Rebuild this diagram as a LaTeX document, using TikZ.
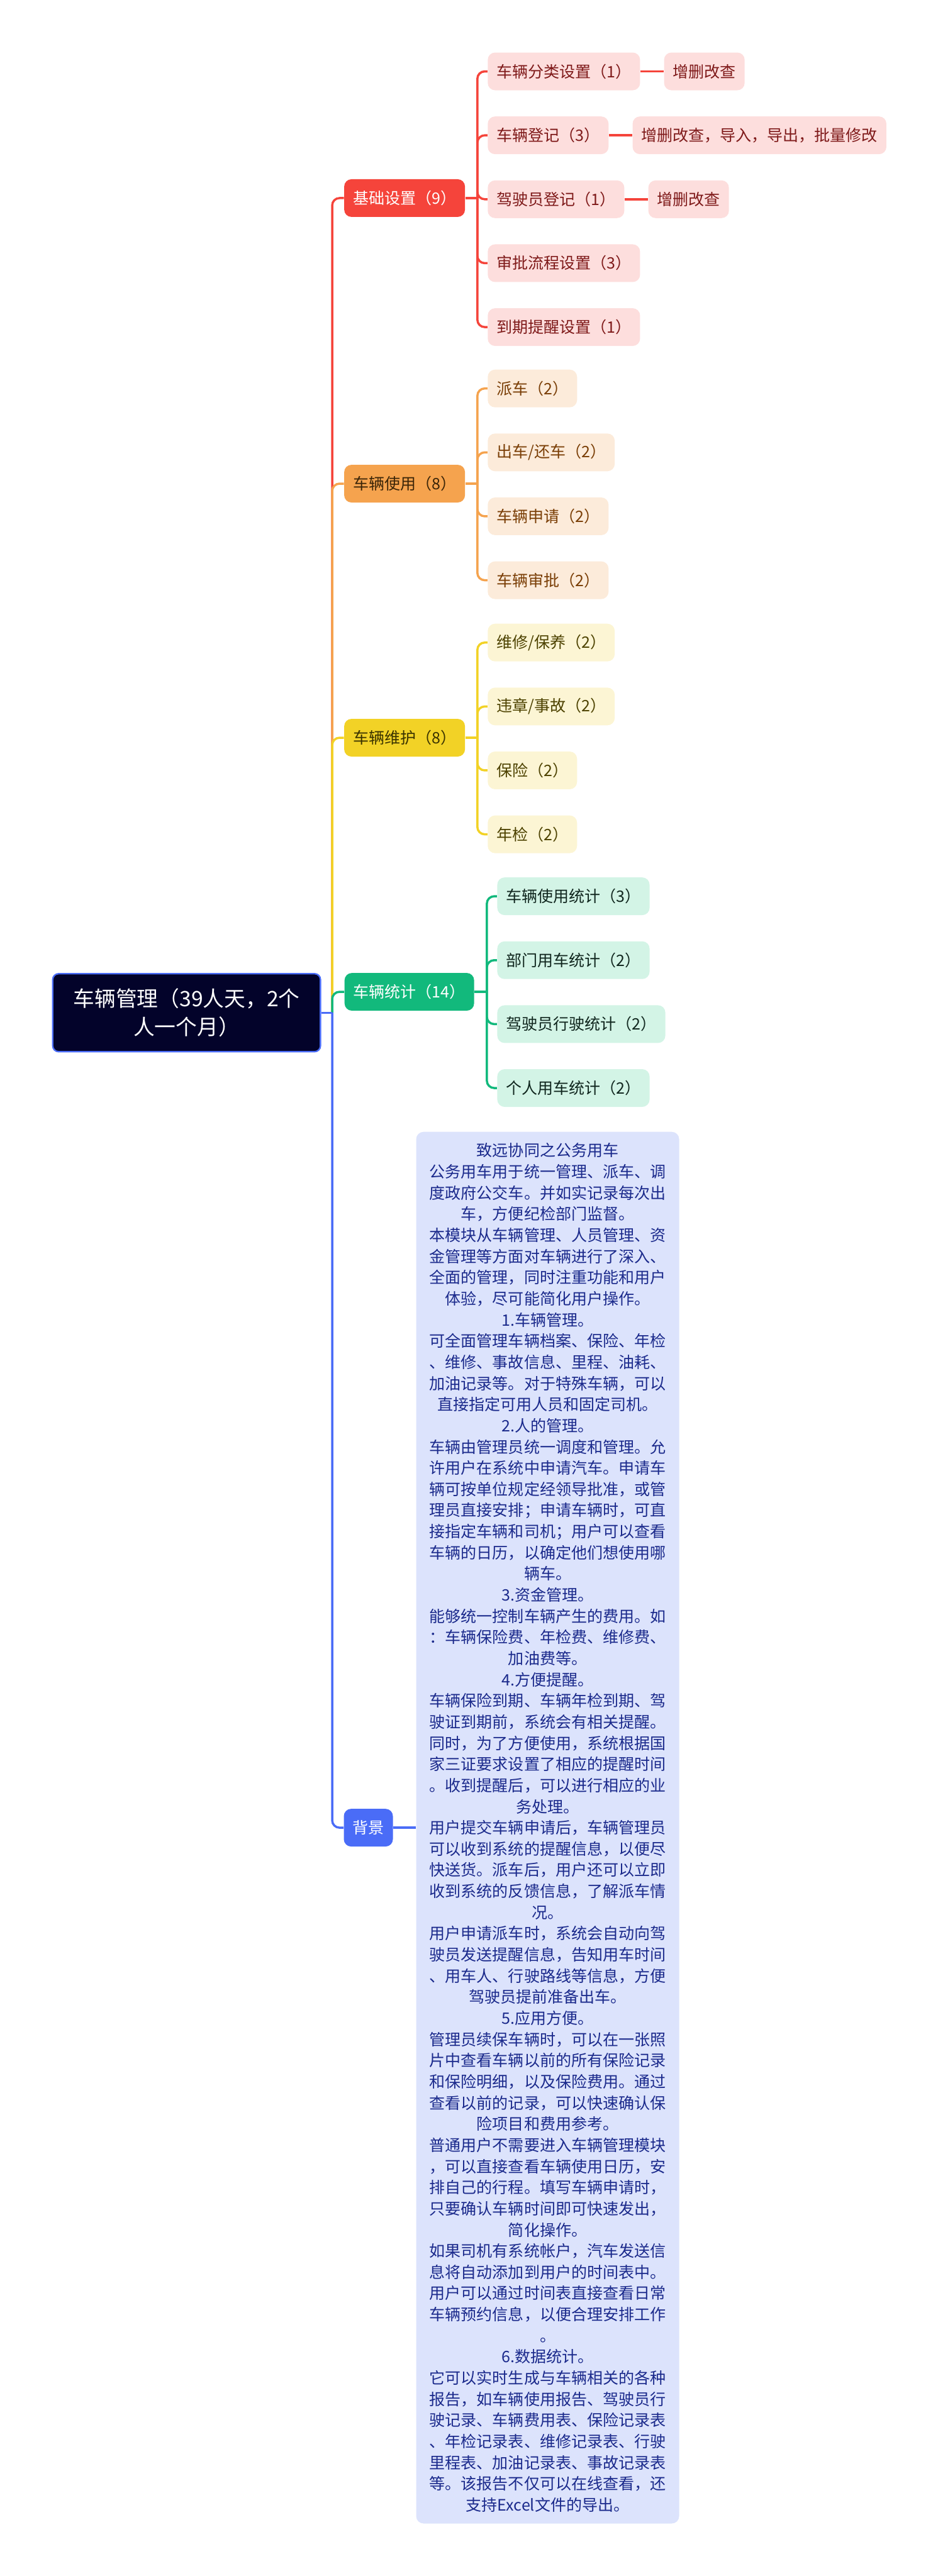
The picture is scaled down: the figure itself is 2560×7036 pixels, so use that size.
\documentclass[tikz,border=0pt]{standalone}
\usepackage{fontspec}
\setmainfont{Noto Sans CJK SC}
\usepackage{xcolor}
\usetikzlibrary{positioning}
\definecolor{rootfill}{HTML}{03032A}
\definecolor{redmain}{HTML}{F5443B}
\definecolor{redleaf}{HTML}{FDDEDD}
\definecolor{redtext}{HTML}{7F1A1A}
\definecolor{orgmain}{HTML}{F5A34E}
\definecolor{orgleaf}{HTML}{FCEBDA}
\definecolor{orgtext}{HTML}{7A3E06}
\definecolor{orgdark}{HTML}{3B2508}
\definecolor{yelmain}{HTML}{F2D226}
\definecolor{yelleaf}{HTML}{FCF5D4}
\definecolor{yeltext}{HTML}{4D4200}
\definecolor{yeldark}{HTML}{3A3300}
\definecolor{grnmain}{HTML}{12B97C}
\definecolor{grnleaf}{HTML}{D3F4E6}
\definecolor{grntext}{HTML}{10261E}
\definecolor{blumain}{HTML}{4A6CF7}
\definecolor{bluleaf}{HTML}{DCE3FC}
\definecolor{blutext}{HTML}{1B2A8C}

\begin{document}
\begin{tikzpicture}[x=0.25pt, y=-0.25pt]
            \useasboundingbox (0,0) rectangle (2560,7036);
            % Block styles
            \tikzstyle{block} = [rectangle, rounded corners=5pt, minimum height=25.75pt, inner xsep=6pt, inner ysep=0pt, font=\fontsize{10.75pt}{13pt}\selectfont]
            \tikzstyle{block_root} = [rectangle, rounded corners=4pt, draw=blumain, line width=1pt, fill=rootfill, text=white, align=center, minimum width=182.75pt, minimum height=53.25pt, font=\fontsize{14.5pt}{19.5pt}\selectfont]
            \tikzstyle{block_red} = [block, fill=redmain, text=white]
            \tikzstyle{block_orange} = [block, fill=orgmain, text=orgdark]
            \tikzstyle{block_yellow} = [block, fill=yelmain, text=yeldark]
            \tikzstyle{block_green} = [block, fill=grnmain, text=white]
            \tikzstyle{block_blue} = [block, fill=blumain, text=white]
            \tikzstyle{leaf_red} = [block, fill=redleaf, text=redtext]
            \tikzstyle{leaf_orange} = [block, fill=orgleaf, text=orgtext]
            \tikzstyle{leaf_yellow} = [block, fill=yelleaf, text=yeltext]
            \tikzstyle{leaf_green} = [block, fill=grnleaf, text=grntext]
            \tikzstyle{note_blue} = [rectangle, rounded corners=5pt, fill=bluleaf, text=blutext, align=center, text width=162pt, inner xsep=8.75pt, minimum height=950.25pt, font=\fontsize{10.75pt}{14.45pt}\selectfont]
            \tikzstyle{wire} = [line width=1.5pt, rounded corners=5pt]
            % Root and branches
            \node[block_root] (root) at (509.5,2766) {车辆管理（39人天，2个\\人一个月）};
            \node[block_red, anchor=west] (basic_setup) at (939,541) {基础设置（9）};
            \node[block_orange, anchor=west] (veh_use) at (939,1321) {车辆使用（8）};
            \node[block_yellow, anchor=west] (veh_maint) at (939,2015) {车辆维护（8）};
            \node[block_green, anchor=west] (veh_stat) at (940,2709) {车辆统计（14）};
            \node[block_blue, anchor=west] (background) at (938,4992) {背景};
            % Basic setup
            \node[leaf_red, anchor=west] (veh_class) at (1331,195) {车辆分类设置（1）};
            \node[leaf_red, below=17.5pt of veh_class.south west, anchor=north west] (veh_reg) {车辆登记（3）};
            \node[leaf_red, below=17.5pt of veh_reg.south west, anchor=north west] (driver_reg) {驾驶员登记（1）};
            \node[leaf_red, below=17.5pt of driver_reg.south west, anchor=north west] (approval) {审批流程设置（3）};
            \node[leaf_red, below=17.5pt of approval.south west, anchor=north west] (expiry) {到期提醒设置（1）};
            \node[leaf_red, right=16pt of veh_class] (veh_class_ops) {增删改查};
            \node[leaf_red, right=16pt of veh_reg] (veh_reg_ops) {增删改查，导入，导出，批量修改};
            \node[leaf_red, right=16pt of driver_reg] (driver_reg_ops) {增删改查};
            % Vehicle use
            \node[leaf_orange, anchor=west] (dispatch) at (1331,1061) {派车（2）};
            \node[leaf_orange, below=17.5pt of dispatch.south west, anchor=north west] (out_return) {出车/还车（2）};
            \node[leaf_orange, below=17.5pt of out_return.south west, anchor=north west] (veh_apply) {车辆申请（2）};
            \node[leaf_orange, below=17.5pt of veh_apply.south west, anchor=north west] (veh_approve) {车辆审批（2）};
            % Vehicle maintenance
            \node[leaf_yellow, anchor=west] (repair) at (1331,1755) {维修/保养（2）};
            \node[leaf_yellow, below=17.5pt of repair.south west, anchor=north west] (violation) {违章/事故（2）};
            \node[leaf_yellow, below=17.5pt of violation.south west, anchor=north west] (insurance) {保险（2）};
            \node[leaf_yellow, below=17.5pt of insurance.south west, anchor=north west] (inspection) {年检（2）};
            % Vehicle statistics
            \node[leaf_green, anchor=west] (use_stat) at (1357,2448) {车辆使用统计（3）};
            \node[leaf_green, below=17.5pt of use_stat.south west, anchor=north west] (dept_stat) {部门用车统计（2）};
            \node[leaf_green, below=17.5pt of dept_stat.south west, anchor=north west] (driver_stat) {驾驶员行驶统计（2）};
            \node[leaf_green, below=17.5pt of driver_stat.south west, anchor=north west] (person_stat) {个人用车统计（2）};
            % Background text
            \node[note_blue, right=15.5pt of background] (background_text) {致远协同之公务用车\\
公务用车用于统一管理、派车、调\\
度政府公交车。并如实记录每次出\\
车，方便纪检部门监督。\\
本模块从车辆管理、人员管理、资\\
金管理等方面对车辆进行了深入、\\
全面的管理，同时注重功能和用户\\
体验，尽可能简化用户操作。\\
1.车辆管理。\\
可全面管理车辆档案、保险、年检\\
、维修、事故信息、里程、油耗、\\
加油记录等。对于特殊车辆，可以\\
直接指定可用人员和固定司机。\\
2.人的管理。\\
车辆由管理员统一调度和管理。允\\
许用户在系统中申请汽车。申请车\\
辆可按单位规定经领导批准，或管\\
理员直接安排；申请车辆时，可直\\
接指定车辆和司机；用户可以查看\\
车辆的日历，以确定他们想使用哪\\
辆车。\\
3.资金管理。\\
能够统一控制车辆产生的费用。如\\
：车辆保险费、年检费、维修费、\\
加油费等。\\
4.方便提醒。\\
车辆保险到期、车辆年检到期、驾\\
驶证到期前，系统会有相关提醒。\\
同时，为了方便使用，系统根据国\\
家三证要求设置了相应的提醒时间\\
。收到提醒后，可以进行相应的业\\
务处理。\\
用户提交车辆申请后，车辆管理员\\
可以收到系统的提醒信息，以便尽\\
快送货。派车后，用户还可以立即\\
收到系统的反馈信息，了解派车情\\
况。\\
用户申请派车时，系统会自动向驾\\
驶员发送提醒信息，告知用车时间\\
、用车人、行驶路线等信息，方便\\
驾驶员提前准备出车。\\
5.应用方便。\\
管理员续保车辆时，可以在一张照\\
片中查看车辆以前的所有保险记录\\
和保险明细，以及保险费用。通过\\
查看以前的记录，可以快速确认保\\
险项目和费用参考。\\
普通用户不需要进入车辆管理模块\\
，可以直接查看车辆使用日历，安\\
排自己的行程。填写车辆申请时，\\
只要确认车辆时间即可快速发出，\\
简化操作。\\
如果司机有系统帐户，汽车发送信\\
息将自动添加到用户的时间表中。\\
用户可以通过时间表直接查看日常\\
车辆预约信息，以便合理安排工作\\
。\\
6.数据统计。\\
它可以实时生成与车辆相关的各种\\
报告，如车辆使用报告、驾驶员行\\
驶记录、车辆费用表、保险记录表\\
、年检记录表、维修记录表、行驶\\
里程表、加油记录表、事故记录表\\
等。该报告不仅可以在线查看，还\\
支持Excel文件的导出。};
            % Connections
            \coordinate (trunk) at (907,2766);
            \draw[wire, draw=redmain] (trunk) |- (basic_setup.west);
            \draw[wire, draw=orgmain] (trunk) |- (veh_use.west);
            \draw[wire, draw=yelmain] (trunk) |- (veh_maint.west);
            \draw[wire, draw=grnmain] (trunk) |- (veh_stat.west);
            \draw[wire, draw=blumain] (trunk) |- (background.west);
            \draw[wire, draw=blumain] (root.east) -- (trunk);

            \draw[wire, draw=redmain] (basic_setup.east) --++(8.25pt, 0) coordinate (arrw_basic);
            \draw[wire, draw=redmain] (arrw_basic) |- (veh_class.west);
            \draw[wire, draw=redmain] (arrw_basic) |- (veh_reg.west);
            \draw[wire, draw=redmain] (arrw_basic) |- (driver_reg.west);
            \draw[wire, draw=redmain] (arrw_basic) |- (approval.west);
            \draw[wire, draw=redmain] (arrw_basic) |- (expiry.west);
            \draw[wire, draw=redmain] (veh_class) -- (veh_class_ops);
            \draw[wire, draw=redmain] (veh_reg) -- (veh_reg_ops);
            \draw[wire, draw=redmain] (driver_reg) -- (driver_reg_ops);

            \draw[wire, draw=orgmain] (veh_use.east) --++(8.25pt, 0) coordinate (arrw_use);
            \draw[wire, draw=orgmain] (arrw_use) |- (dispatch.west);
            \draw[wire, draw=orgmain] (arrw_use) |- (out_return.west);
            \draw[wire, draw=orgmain] (arrw_use) |- (veh_apply.west);
            \draw[wire, draw=orgmain] (arrw_use) |- (veh_approve.west);

            \draw[wire, draw=yelmain] (veh_maint.east) --++(8.25pt, 0) coordinate (arrw_maint);
            \draw[wire, draw=yelmain] (arrw_maint) |- (repair.west);
            \draw[wire, draw=yelmain] (arrw_maint) |- (violation.west);
            \draw[wire, draw=yelmain] (arrw_maint) |- (insurance.west);
            \draw[wire, draw=yelmain] (arrw_maint) |- (inspection.west);

            \draw[wire, draw=grnmain] (veh_stat.east) --++(8.5pt, 0) coordinate (arrw_stat);
            \draw[wire, draw=grnmain] (arrw_stat) |- (use_stat.west);
            \draw[wire, draw=grnmain] (arrw_stat) |- (dept_stat.west);
            \draw[wire, draw=grnmain] (arrw_stat) |- (driver_stat.west);
            \draw[wire, draw=grnmain] (arrw_stat) |- (person_stat.west);

            \draw[wire, draw=blumain, line width=2pt] (background) -- (background_text);
        \end{tikzpicture}
\end{document}
